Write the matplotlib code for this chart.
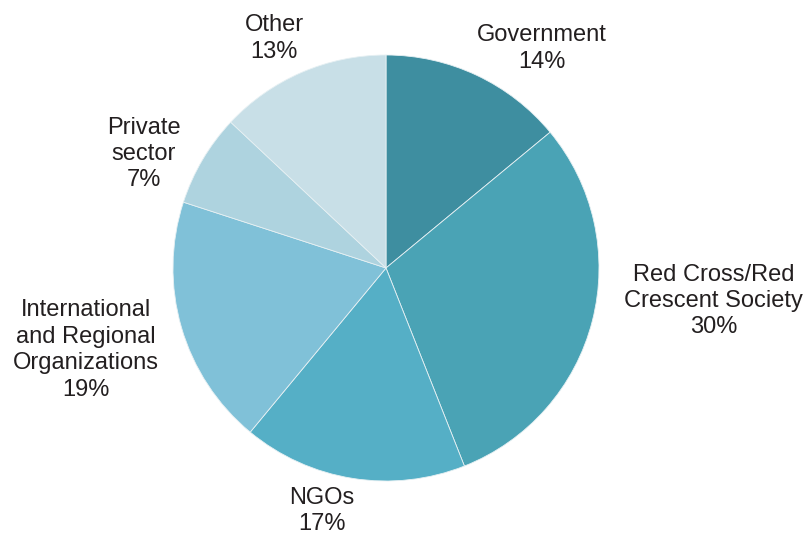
import matplotlib.pyplot as plt

plt.rcParams['font.family'] = ['Liberation Sans', 'DejaVu Sans']

categories = ['Government', 'Red Cross/Red\nCrescent Society', 'NGOs',
              'International\nand Regional\nOrganizations', 'Private\nsector', 'Other']
shares = [14, 30, 17, 19, 7, 13]
colors = ['#3E8EA0', '#4AA3B5', '#55AFC6', '#80C1D8', '#AED3DF', '#C8DFE7']
# label centres, in pie radii from the centre
label_xy = [(0.73, 1.03), (1.537, -0.155), (-0.30, -1.14),
            (-1.41, -0.385), (-1.136, 0.535), (-0.526, 1.077)]

W, H = 805, 537
cx, cy, r = 386, 269, 213   # pie centre (from bottom) and radius, pixels

fig = plt.figure(figsize=(W / 100, H / 100), dpi=100)
ax = fig.add_axes([0, 0, 1, 1])
ax.pie(shares, colors=colors, startangle=90, counterclock=False, radius=1,
       wedgeprops=dict(edgecolor='#E6F0F3', linewidth=0.6))
ax.set_xlim(-cx / r, (W - cx) / r)
ax.set_ylim(-cy / r, (H - cy) / r)
ax.set_aspect('auto')
ax.axis('off')

for name, s, (x, y) in zip(categories, shares, label_xy):
    ax.text(x, y, f'{name}\n{s}%', ha='center', va='center', fontsize=17,
            color='#231F20', linespacing=1.26)

fig.savefig('out.png', dpi=100)
